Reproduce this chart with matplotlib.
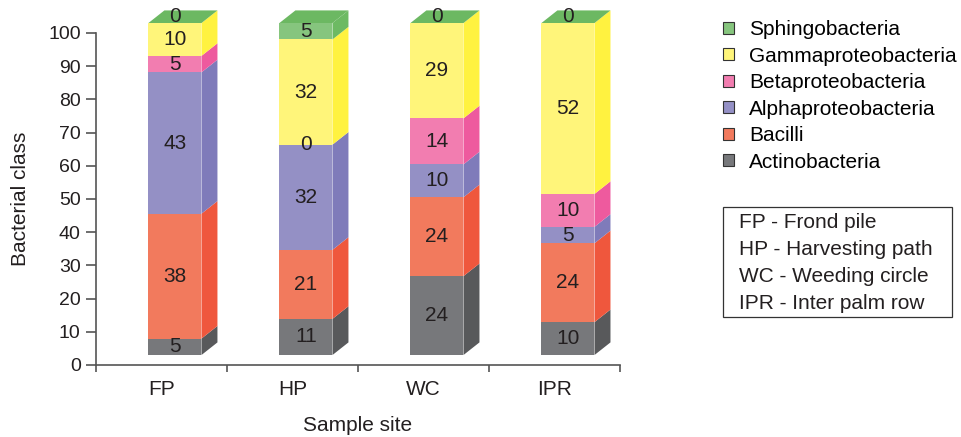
import matplotlib
matplotlib.use('Agg')
import matplotlib.pyplot as plt
from matplotlib.patches import Polygon, Patch, Rectangle
import numpy as np

plt.rcParams['font.family'] = ['Liberation Sans', 'DejaVu Sans']

sites = ['FP', 'HP', 'WC', 'IPR']
classes = ['Actinobacteria', 'Bacilli', 'Alphaproteobacteria',
           'Betaproteobacteria', 'Gammaproteobacteria', 'Sphingobacteria']
actino = [5, 11, 24, 10]
bacilli = [38, 21, 24, 24]
alpha = [43, 32, 10, 5]
beta = [5, 0, 14, 10]
gamma = [10, 32, 29, 52]
sphingo = [0, 5, 0, 0]
site_names = ['FP - Frond pile', 'HP - Harvesting path',
              'WC - Weeding circle', 'IPR - Inter palm row']

front_cols = ['#77787B', '#F27A5D', '#9490C5', '#F27DB0', '#FFF57A', '#86C57E']
side_cols = ['#58595B', '#EF573D', '#7F7BBA', '#EE5A9E', '#FFF240', '#6DBA63']
top_col = '#6CB862'
txt = '#231F20'

vals = np.array([actino, bacilli, alpha, beta, gamma, sphingo], dtype=float)
pct = vals / vals.sum(axis=0) * 100   # 100% stacked

fig = plt.figure(figsize=(9.61, 4.37), dpi=100)
ax = fig.add_axes([0.0999, 0.1648, 0.5453, 0.7597])

x = np.arange(len(sites))
off = -0.1      # front face left edge relative to category
w = 0.405       # front face width
dx, dy = 0.122, 3.8   # depth of the 3d look
base = 3.0

bottom = np.full(len(sites), base)
for k in range(len(classes)):
    h = pct[k]
    ax.bar(x + off, h, w, bottom=bottom, align='edge', color=front_cols[k],
           linewidth=0, clip_on=False, zorder=3)
    for i in range(len(sites)):
        if h[i] <= 0:
            continue
        xr = x[i] + off + w
        b, t = bottom[i], bottom[i] + h[i]
        ax.add_patch(Polygon([(xr, b), (xr + dx, b + dy), (xr + dx, t + dy), (xr, t)],
                             closed=True, facecolor=side_cols[k], edgecolor='none',
                             clip_on=False, zorder=2))
    for i in range(len(sites)):
        ymid = bottom[i] + h[i] / 2
        if vals[k, i] == 0 and k == len(classes) - 1:
            ymid += dy / 2
        ax.text(x[i] + off + w / 2, ymid, '%d' % vals[k, i], ha='center', va='center',
                fontsize=15, color=txt, zorder=5, clip_on=False)
    bottom = bottom + h

# top face
for i in range(len(sites)):
    xl = x[i] + off
    T = bottom[i]
    ax.add_patch(Polygon([(xl, T), (xl + dx, T + dy), (xl + w + dx, T + dy), (xl + w, T)],
                         closed=True, facecolor=top_col, edgecolor='none',
                         clip_on=False, zorder=2))

ax.set_xlim(-0.5, 3.5)
ax.set_ylim(0, 100)
ax.set_yticks(np.arange(0, 101, 10))
ax.set_xticks(x)
ax.set_xticklabels(sites)
ax.set_xticks(np.arange(-0.5, 3.6, 1), minor=True)
ax.tick_params(axis='x', which='major', length=0, pad=11, labelsize=15, labelcolor=txt)
ax.tick_params(axis='x', which='minor', length=5, width=1.2, color='#555555', direction='out')
ax.tick_params(axis='y', length=7, width=1.2, color='#555555', pad=4, labelsize=14, labelcolor=txt)
for s in ['top', 'right']:
    ax.spines[s].set_visible(False)
for s in ['left', 'bottom']:
    ax.spines[s].set_color('#555555')
    ax.spines[s].set_linewidth(1.2)
ax.set_xlabel('Sample site', fontsize=15, color=txt, labelpad=12)
ax.set_ylabel('Bacterial class', fontsize=15, color=txt, labelpad=13)

handles = [Patch(facecolor=front_cols[k], edgecolor='#333333', linewidth=0.8, label=classes[k])
           for k in range(len(classes) - 1, -1, -1)]
fig.legend(handles=handles, loc='upper left', bbox_to_anchor=(0.752, 0.954),
           frameon=False, fontsize=15, handlelength=0.53, handleheight=0.53,
           handletextpad=0.75, labelspacing=0.36, borderpad=0, borderaxespad=0)

# site key box
fig.add_artist(Rectangle((723 / 961, 1 - 317 / 437), 229 / 961, 110 / 437,
                         transform=fig.transFigure, facecolor='white',
                         edgecolor='#333333', linewidth=0.9))
for j, name in enumerate(site_names):
    fig.text(739 / 961, 1 - (223 + j * 26.7) / 437, name, ha='left', va='center',
             fontsize=15, color=txt)

fig.savefig('out.png', dpi=100)
